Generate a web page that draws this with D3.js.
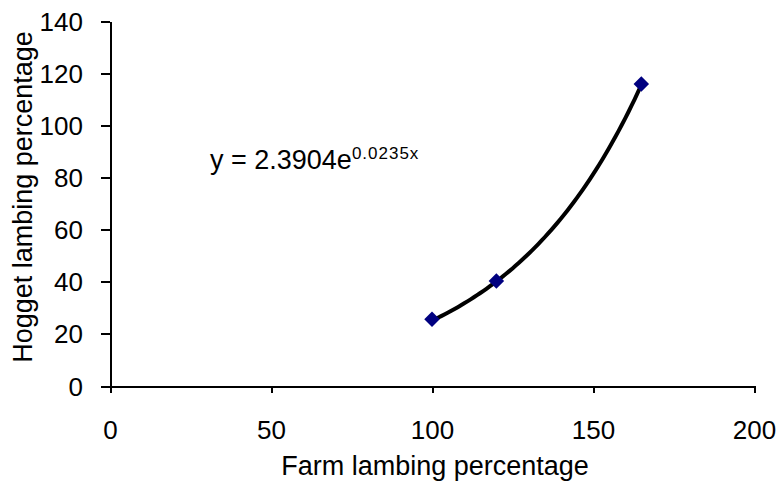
<!DOCTYPE html>
<html>
<head>
    <title>Hogget vs farm lambing percentage</title>
    <style>
        html, body {
            margin: 0;
            padding: 0;
            background: #fff;
        }
        svg text {
            font-family: "Liberation Sans", Arial, sans-serif;
            fill: #000;
        }
        .axis path,
        .axis line {
            fill: none;
            stroke: #000;
            stroke-width: 2;
            shape-rendering: crispEdges;
        }
        .axis text {
            font-size: 26px;
        }
    </style>
    <script src="https://d3js.org/d3.v7.min.js"></script>
</head>
<body>
    <svg id="chart"></svg>
</body>
<script>
    // values
    const farmPct = [100, 120, 165];
    const hoggetPct = [25.6, 40.3, 115.8];
    const xTicks = [0, 50, 100, 150, 200];
    const yTicks = [0, 20, 40, 60, 80, 100, 120, 140];
    // exponential trend line shown on the chart: y = a * e^(b x)
    const trendA = 2.3904;
    const trendB = 0.0235;

    const width = 779;
    const height = 482;
    const margin = { top: 21, right: 25, bottom: 96, left: 110 };
    const w = width - margin.left - margin.right;
    const h = height - margin.top - margin.bottom;

    const svgRoot = d3.select("#chart")
        .attr("width", width)
        .attr("height", height);
    const svg = svgRoot.append("g")
        .attr("transform", "translate(" + margin.left + "," + margin.top + ")");

    const x = d3.scaleLinear().domain([0, 200]).range([0, w]);
    const y = d3.scaleLinear().domain([0, 140]).range([h, 0]);

    svg.append("g")
        .attr("class", "x axis")
        .attr("transform", "translate(0," + h + ")")
        .call(d3.axisBottom(x).tickValues(xTicks).tickSizeInner(7).tickSizeOuter(0).tickPadding(37))
        .selectAll("text").attr("dy", "0.35em");

    svg.append("g")
        .attr("class", "y axis")
        .call(d3.axisLeft(y).tickValues(yTicks).tickSizeInner(9).tickSizeOuter(0).tickPadding(18))
        .selectAll("text").attr("dy", "0.35em");

    // trend line between first and last point
    const trendXs = d3.range(farmPct[0], farmPct[farmPct.length - 1] + 0.5, 1);
    const line = d3.line()
        .x(d => x(d))
        .y(d => y(trendA * Math.exp(trendB * d)));
    svg.append("path")
        .datum(trendXs)
        .attr("d", line)
        .attr("fill", "none")
        .attr("stroke", "#000")
        .attr("stroke-width", 4);

    const data = farmPct.map((f, i) => ({ x: f, y: hoggetPct[i] }));
    svg.selectAll(".dot")
        .data(data)
        .enter().append("path")
        .attr("class", "dot")
        .attr("d", d3.symbol().type(d3.symbolSquare).size(120))
        .attr("transform", d => "translate(" + x(d.x) + "," + y(d.y) + ") rotate(45)")
        .attr("fill", "#000080");

    // equation label
    const eq = svg.append("text")
        .attr("x", 210 - margin.left)
        .attr("y", 169 - margin.top)
        .attr("font-size", "27px");
    eq.append("tspan").text("y = 2.3904e");
    eq.append("tspan")
        .attr("font-size", "17px")
        .attr("letter-spacing", "1px")
        .attr("dy", "-10")
        .text("0.0235x");

    svgRoot.append("text")
        .attr("x", 435)
        .attr("y", 475)
        .attr("text-anchor", "middle")
        .attr("font-size", "27px")
        .text("Farm lambing percentage");

    svgRoot.append("text")
        .attr("transform", "translate(32,197) rotate(-90)")
        .attr("text-anchor", "middle")
        .attr("font-size", "27px")
        .text("Hogget lambing percentage");
</script>
</html>
